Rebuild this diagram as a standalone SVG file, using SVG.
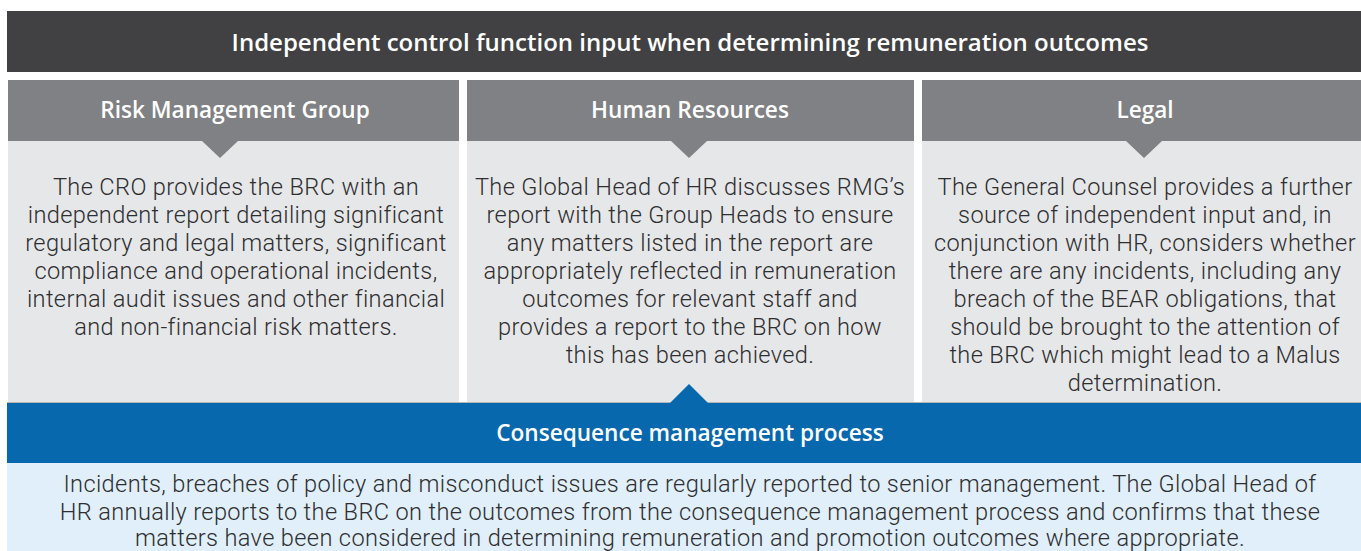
<svg xmlns="http://www.w3.org/2000/svg" width="1361" height="551" viewBox="0 0 1361 551">
<style>
.hd{font-family:"Open Sans","Liberation Sans",sans-serif;font-weight:600;fill:#fff;text-anchor:middle}
.bd{font-family:Roboto,"Liberation Sans",sans-serif;font-weight:300;fill:#2e2e30;text-anchor:middle;font-size:23.6px;letter-spacing:0.36px}
.hdr{fill:#808184}
.body{fill:#e6e7e8}
</style>
<rect width="1361" height="551" fill="#fff"/>
<g id="title">
<rect x="7" y="11" width="1354" height="61" fill="#414143"/>
<text class="hd" x="690" y="51" font-size="24">Independent control function input when determining remuneration outcomes</text>
</g>
<g id="rmg">
<rect class="body" x="8" y="141" width="451" height="262"/>
<rect class="hdr" x="8" y="80" width="451" height="61"/>
<polygon class="hdr" points="202,141 238,141 220,158"/>
<text class="hd" x="235" y="118" font-size="22.6">Risk Management Group</text>
<text class="bd"><tspan x="236" y="195">The CRO provides the BRC with an</tspan><tspan x="236" y="223">independent report detailing significant</tspan><tspan x="236" y="251">regulatory and legal matters, significant</tspan><tspan x="236" y="279">compliance and operational incidents,</tspan><tspan x="236" y="307">internal audit issues and other financial</tspan><tspan x="236" y="335">and non-financial risk matters.</tspan></text>
</g>
<g id="hr">
<rect class="body" x="467" y="141" width="447" height="262"/>
<rect class="hdr" x="467" y="80" width="447" height="61"/>
<polygon class="hdr" points="671,141 707,141 689,158"/>
<text class="hd" x="690" y="118" font-size="22.6">Human Resources</text>
<text class="bd"><tspan x="690" y="195">The Global Head of HR discusses RMG’s</tspan><tspan x="690" y="223">report with the Group Heads to ensure</tspan><tspan x="690" y="251">any matters listed in the report are</tspan><tspan x="690" y="279">appropriately reflected in remuneration</tspan><tspan x="690" y="307">outcomes for relevant staff and</tspan><tspan x="690" y="335">provides a report to the BRC on how</tspan><tspan x="690" y="363">this has been achieved.</tspan></text>
</g>
<g id="legal">
<rect class="body" x="922" y="141" width="439" height="262"/>
<rect class="hdr" x="922" y="80" width="439" height="61"/>
<polygon class="hdr" points="1126,141 1162,141 1144,158"/>
<text class="hd" x="1145" y="118" font-size="22.6">Legal</text>
<text class="bd"><tspan x="1145" y="195">The General Counsel provides a further</tspan><tspan x="1145" y="223">source of independent input and, in</tspan><tspan x="1145" y="251">conjunction with HR, considers whether</tspan><tspan x="1145" y="279">there are any incidents, including any</tspan><tspan x="1145" y="307">breach of the BEAR obligations, that</tspan><tspan x="1145" y="335">should be brought to the attention of</tspan><tspan x="1145" y="363">the BRC which might lead to a Malus</tspan><tspan x="1145" y="391">determination.</tspan></text>
</g>
<g id="consequence">
<rect x="7" y="463" width="1354" height="88" fill="#e0eff9"/>
<rect x="7" y="403" width="1354" height="60" fill="#0768ae"/>
<line x1="7" y1="402.5" x2="1361" y2="402.5" stroke="#b5b6b8" stroke-width="1"/>
<polygon points="670,403 708,403 689,384" fill="#0768ae"/>
<text class="hd" x="690" y="441" font-size="22.6">Consequence management process</text>
<text class="bd"><tspan x="690" y="492">Incidents, breaches of policy and misconduct issues are regularly reported to senior management. The Global Head of</tspan><tspan x="690" y="520">HR annually reports to the BRC on the outcomes from the consequence management process and confirms that these</tspan><tspan x="690" y="546">matters have been considered in determining remuneration and promotion outcomes where appropriate.</tspan></text>
</g>
<g id="connectors"></g>
</svg>
